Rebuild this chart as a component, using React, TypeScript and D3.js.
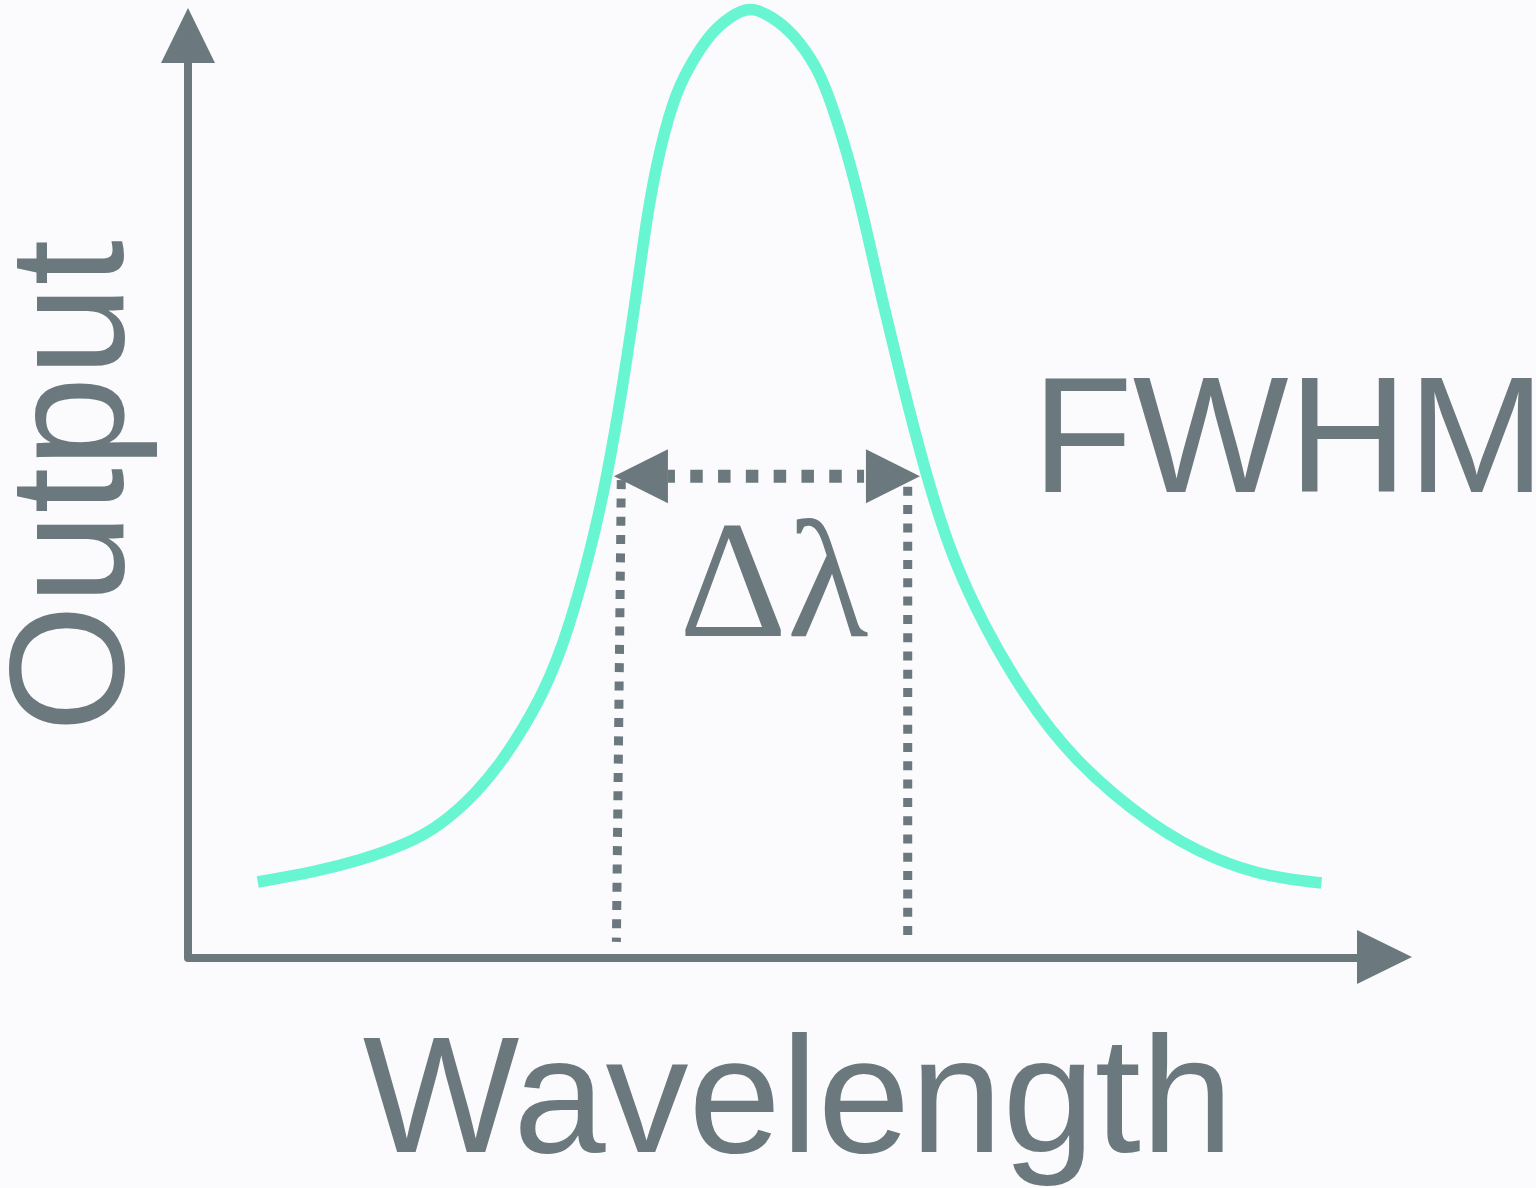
import React from "react";
import * as d3 from "d3";

// ---- data (arbitrary units: wavelength 0..100, output 0..100) ----
const wavelength = [
  5.7, 10.5, 14.1, 17.7, 20.6, 23.6, 25.7, 27.45, 29.0, 30.15, 31.1, 32.7, 34.2,
  35.6, 36.8, 37.3, 38.2, 39.6, 40.9, 42.7, 44.3, 45.9, 47.7, 49.4, 51.4, 52.5,
  54.2, 55.5, 56.7, 58.3, 60.4, 62.5, 65.1, 68.2, 72.3, 78.8, 83.9, 88.4, 92.6,
];
const output = [
  8.0, 9.1, 10.3, 11.9, 13.9, 17.4, 20.8, 24.3, 27.9, 31.4, 34.8, 41.9, 50.3,
  60.8, 71.4, 76.3, 83.3, 90.3, 93.8, 97.4, 99.1, 100.2, 99.1, 97.4, 93.8, 90.3,
  83.3, 76.3, 69.3, 60.8, 50.3, 41.9, 34.8, 27.9, 20.8, 13.8, 10.3, 8.5, 7.9,
];

// FWHM annotation (data units)
const fwhmLevel = 50.7;
const fwhmLeft = 34.8;
const fwhmRight = 59.8;
const dropLeftTop = [35.4, 50.3];
const dropLeftBottom = [35.0, 1.7];
const dropRightTop = [58.8, 49.6];
const dropRightBottom = [58.8, 2.2];

const labels = {
  x: "Wavelength",
  y: "Output",
  fwhm: "FWHM",
  delta: "Δλ",
};

const W = 1536;
const H = 1188;
const GREY = "#6b797e";
const CURVE = "#68f5d2";

export default function App() {
  const x = d3.scaleLinear().domain([0, 100]).range([188, 1412]);
  const y = d3.scaleLinear().domain([0, 100]).range([958, 8]);

  const pts = wavelength.map((w, i) => [w, output[i]] as [number, number]);
  const line = d3
    .line<[number, number]>()
    .x((d) => x(d[0]))
    .y((d) => y(d[1]))
    .curve(d3.curveBasis);

  const x0 = x(0);
  const y0 = y(0);
  const xEnd = x(100);
  const yEnd = y(100);
  const ah = 55; // arrow head length
  const aw = 27; // arrow half width

  const fy = y(fwhmLevel);
  const fl = x(fwhmLeft);
  const fr = x(fwhmRight);

  return (
    <svg
      width={W}
      height={H}
      style={{ position: "absolute", left: 0, top: 0, background: "#fbfbfd" }}
    >
      <rect x={0} y={0} width={W} height={H} fill="#fbfbfd" />
      {/* axes */}
      <path
        d={`M${x0},${yEnd + ah - 2} L${x0},${y0} L${xEnd - ah + 2},${y0}`}
        fill="none"
        stroke={GREY}
        strokeWidth={8}
        strokeLinejoin="round"
        strokeLinecap="round"
      />
      <polygon
        points={`${x0},${yEnd} ${x0 - aw},${yEnd + ah} ${x0 + aw},${yEnd + ah}`}
        fill={GREY}
      />
      <polygon
        points={`${xEnd},${y0 - 1} ${xEnd - ah},${y0 - 1 - aw} ${xEnd - ah},${y0 - 1 + aw}`}
        fill={GREY}
      />

      {/* curve */}
      <path
        d={line(pts) || ""}
        fill="none"
        stroke={CURVE}
        strokeWidth={11.5}
        strokeLinecap="butt"
        strokeLinejoin="round"
      />

      {/* vertical drop lines */}
      <line
        x1={x(dropLeftTop[0])}
        y1={y(dropLeftTop[1])}
        x2={x(dropLeftBottom[0])}
        y2={y(dropLeftBottom[1])}
        stroke={GREY}
        strokeWidth={9}
        strokeDasharray="9 9.3"
      />
      <line
        x1={x(dropRightTop[0])}
        y1={y(dropRightTop[1])}
        x2={x(dropRightBottom[0])}
        y2={y(dropRightBottom[1])}
        stroke={GREY}
        strokeWidth={9}
        strokeDasharray="9 9.3"
      />

      {/* FWHM double arrow */}
      <line
        x1={fl + 54}
        y1={fy}
        x2={fr - 54}
        y2={fy}
        stroke={GREY}
        strokeWidth={13}
        strokeDasharray="7 15.3 12.5 15.3 12.5 15.3 12.5 15.3 12.5 15.3 12.5 15.3 12.5 15.3"
      />
      <polygon
        points={`${fl},${fy} ${fl + 54},${fy - 27} ${fl + 54},${fy + 27}`}
        fill={GREY}
      />
      <polygon
        points={`${fr},${fy} ${fr - 54},${fy - 27} ${fr - 54},${fy + 27}`}
        fill={GREY}
      />

      {/* labels */}
      <text
        x={679}
        y={636}
        fontFamily="'Liberation Serif', 'Times New Roman', serif"
        fontSize={168}
        fill={GREY}
      >
        {labels.delta}
      </text>
      <text
        x={1032}
        y={492}
        fontFamily="'Liberation Sans', Arial, sans-serif"
        fontSize={165}
        fill={GREY}
      >
        {labels.fwhm}
      </text>
      <text
        x={798}
        y={1152}
        textAnchor="middle"
        fontFamily="'Liberation Sans', Arial, sans-serif"
        fontSize={166}
        fill={GREY}
      >
        {labels.x}
      </text>
      <text
        transform="translate(123,486) rotate(-90)"
        textAnchor="middle"
        fontFamily="'Liberation Sans', Arial, sans-serif"
        fontSize={164}
        fill={GREY}
      >
        {labels.y}
      </text>
    </svg>
  );
}
